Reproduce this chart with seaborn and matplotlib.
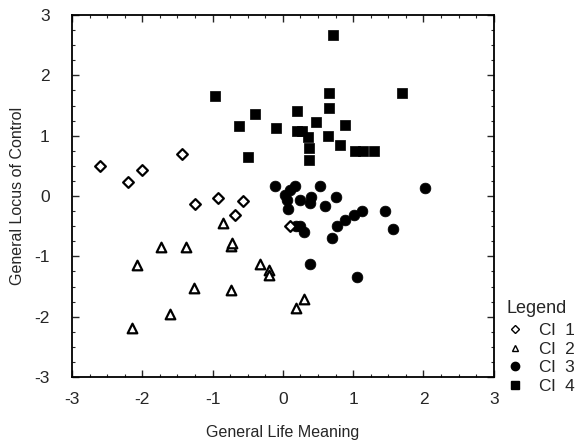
import numpy as np
import pandas as pd
import matplotlib
matplotlib.use("Agg")
import matplotlib.pyplot as plt
from matplotlib.lines import Line2D
from matplotlib.ticker import MultipleLocator
import seaborn as sns

# ---- data ----
cl1_x = [-2.60, -2.20, -2.01, -1.43, -1.25, -0.92, -0.56, -0.68, 0.10]
cl1_y = [0.50, 0.24, 0.43, 0.69, -0.13, -0.03, -0.08, -0.32, -0.50]

cl2_x = [-0.85, -1.74, -1.38, -0.74, -0.72, -2.07, -0.33, -0.20, -0.20, -1.26, -0.74, -1.61, -2.14, 0.19, 0.30]
cl2_y = [-0.45, -0.85, -0.85, -0.83, -0.78, -1.15, -1.13, -1.22, -1.31, -1.52, -1.56, -1.96, -2.19, -1.85, -1.71]

cl3_x = [-0.11, 0.17, 0.10, 0.03, 0.06, 0.07, 0.24, 0.40, 0.38, 0.53, 0.60, 0.76, 1.12, 1.01, 0.89,
         0.77, 0.70, 1.46, 1.56, 2.02, 0.18, 0.25, 0.30, 0.38, 1.05]
cl3_y = [0.17, 0.17, 0.10, 0.02, -0.07, -0.22, -0.07, -0.02, -0.12, 0.17, -0.16, -0.02, -0.25, -0.32, -0.40,
         -0.50, -0.69, -0.24, -0.54, 0.13, -0.50, -0.50, -0.60, -1.12, -1.35]

cl4_x = [0.71, -0.96, -0.39, -0.62, -0.49, -0.10, 0.20, 0.20, 0.27, 0.36, 0.37, 0.37, 0.47, 0.66, 0.66,
         0.64, 0.88, 0.82, 1.02, 1.14, 1.29, 1.70]
cl4_y = [2.67, 1.66, 1.36, 1.16, 0.64, 1.13, 1.41, 1.08, 1.08, 0.98, 0.79, 0.60, 1.22, 1.71, 1.46,
         0.99, 1.17, 0.84, 0.75, 0.75, 0.75, 1.70]

cluster_labels = ["Cl 1", "Cl 2", "Cl 3", "Cl 4"]
x_ticks = [-3, -2, -1, 0, 1, 2, 3]
y_ticks = [-3, -2, -1, 0, 1, 2, 3]

df = pd.concat([
    pd.DataFrame({"x": cl1_x, "y": cl1_y, "cl": cluster_labels[0]}),
    pd.DataFrame({"x": cl2_x, "y": cl2_y, "cl": cluster_labels[1]}),
    pd.DataFrame({"x": cl3_x, "y": cl3_y, "cl": cluster_labels[2]}),
    pd.DataFrame({"x": cl4_x, "y": cl4_y, "cl": cluster_labels[3]}),
], ignore_index=True)

sns.set_style("ticks")
plt.rcParams["font.family"] = ["Liberation Sans", "DejaVu Sans"]

fig = plt.figure(figsize=(5.85, 4.43), dpi=100)
ax = fig.add_axes([0.123, 0.149, 0.721, 0.817])

styles = {
    "Cl 1": dict(marker="D", facecolor="white", edgecolor="black", s=30, lw=1.6, z=5),
    "Cl 2": dict(marker="^", facecolor="white", edgecolor="black", s=48, lw=1.6, z=4),
    "Cl 3": dict(marker="o", facecolor="black", edgecolor="black", s=60, lw=0.5, z=3),
    "Cl 4": dict(marker="s", facecolor="black", edgecolor="black", s=60, lw=0.5, z=3),
}
for lab in cluster_labels:
    st = styles[lab]
    sns.scatterplot(data=df[df.cl == lab], x="x", y="y", ax=ax, marker=st["marker"],
                    color=st["facecolor"], edgecolor=st["edgecolor"], s=st["s"],
                    linewidth=st["lw"], legend=False, zorder=st["z"])

ax.set_xlim(-3, 3)
ax.set_ylim(-3, 3)
ax.set_xticks(x_ticks)
ax.set_yticks(y_ticks)
ax.set_xticklabels([str(t) for t in x_ticks], fontsize=12.5)
ax.set_yticklabels([str(t) for t in y_ticks], fontsize=12.5)
ax.xaxis.set_minor_locator(MultipleLocator(0.25))
ax.yaxis.set_minor_locator(MultipleLocator(0.25))
ax.tick_params(which="major", direction="in", length=5, width=1, top=True, right=True)
ax.tick_params(axis="x", which="major", pad=11)
ax.tick_params(axis="y", which="major", pad=16)
ax.tick_params(which="minor", direction="in", length=2.5, width=0.8, top=True, right=True)
for sp in ax.spines.values():
    sp.set_visible(True)
    sp.set_linewidth(1.3)
    sp.set_color("black")

ax.set_xlabel("General Life Meaning", fontsize=11.5, labelpad=13)
ax.set_ylabel("General Locus of Control", fontsize=11.5, labelpad=7)

handles = [
    Line2D([], [], ls="none", marker="D", markerfacecolor="white", markeredgecolor="black", markersize=4.5, markeredgewidth=1),
    Line2D([], [], ls="none", marker="^", markerfacecolor="white", markeredgecolor="black", markersize=5, markeredgewidth=1),
    Line2D([], [], ls="none", marker="o", markerfacecolor="black", markeredgecolor="black", markersize=6),
    Line2D([], [], ls="none", marker="s", markerfacecolor="black", markeredgecolor="black", markersize=5.5),
]
leg = fig.legend(handles, [l.replace(" ", "  ") for l in cluster_labels], title="Legend", loc="lower left",
                 bbox_to_anchor=(0.845, 0.083), frameon=False, fontsize=12.5,
                 title_fontsize=13, handlelength=1.0, handletextpad=0.9,
                 labelspacing=0.2, borderpad=0.2)
leg._legend_box.align = "left"
leg._legend_box.sep = 4

fig.savefig("out.png", dpi=100)
